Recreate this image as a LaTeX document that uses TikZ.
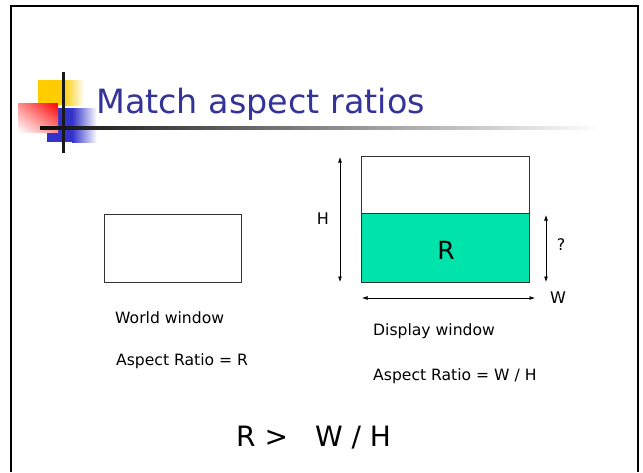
\documentclass[tikz,border=0pt]{standalone}
\usepackage{fontspec}
\setmainfont{DejaVu Sans}
\usetikzlibrary{arrows.meta,shadings}
\definecolor{titleblue}{RGB}{51,51,153}
\definecolor{ratiogreen}{RGB}{0,227,170}
\definecolor{logoyellow}{RGB}{255,204,0}
\definecolor{logoblue}{RGB}{51,51,204}
\tikzset{
	label/.style={inner sep=0pt, anchor=base west, font=\fontsize{15.6}{18}\selectfont},
	dimarrow/.style={{Latex[length=5.5pt,width=4pt]}-{Latex[length=5.5pt,width=4pt]}, line width=0.8pt},
	winbox/.style={draw=black!80, line width=0.9pt}
}

\begin{document}
\begin{tikzpicture}[x=1pt, y=-1pt]
			%%%%% START %%%%%
			
			\useasboundingbox (0, 0) rectangle (643, 472);
			
			\draw[line width=2pt] (11, 472) -- (11, 6) -- (638, 6) -- (638, 472);
			
			% logo
			\fill[logoyellow] (38, 80) rectangle (63, 105);
			\shade[left color=logoyellow, right color=white] (63, 80) rectangle (84, 105);
			\fill[logoblue] (47, 108) rectangle (72, 142);
			\shade[left color=logoblue, right color=white] (72, 108) rectangle (97, 142);
			\shade[upper right=red, upper left=red!45, lower right=red!45, lower left=white] (18, 103) rectangle (58, 132);
			\shade[left color=black!95, right color=white] (40, 126) rectangle (600, 129);
			\fill[black!90] (62, 72) rectangle (65, 153);
			
			\node[inner sep=0pt, anchor=base west, text=titleblue, font=\fontsize{33.4}{40}\selectfont] (title) at (96, 113) {Match aspect ratios};
			
			% world window
			\draw[winbox] (104, 214) rectangle (241, 282);
			\node[label] (worldname) at (115, 323) {World window};
			\node[label] (worldratio) at (116, 365) {Aspect Ratio = R};
			
			% display window
			\coordinate (dtl) at (361, 156);
			\coordinate (dbr) at (529, 282);
			\fill[ratiogreen] (361, 213) rectangle (dbr);
			\draw[winbox] (dtl) rectangle (dbr);
			\draw[winbox] (361, 213) -- (529, 213);
			\node[font=\fontsize{25}{30}\selectfont] (r) at (446, 250) {R};
			
			\coordinate (htop) at (340, 157);
			\coordinate (hbot) at (340, 282);
			\draw[dimarrow] (htop) -- (hbot);
			\node[font=\fontsize{16}{19}\selectfont] (h) at (323, 219) {H};
			
			\coordinate (qtop) at (546, 215);
			\coordinate (qbot) at (546, 282);
			\draw[dimarrow] (qtop) -- (qbot);
			\node[font=\fontsize{16}{19}\selectfont] (q) at (561, 245) {?};
			
			\coordinate (wleft) at (362, 298);
			\coordinate (wright) at (535, 298);
			\draw[dimarrow] (wleft) -- (wright);
			\node[font=\fontsize{16}{19}\selectfont] (w) at (558, 298) {W};
			
			\node[label] (dispname) at (373, 335) {Display window};
			\node[label] (dispratio) at (373, 380) {Aspect Ratio = W / H};
			
			\node[inner sep=0pt, anchor=base west, font=\fontsize{28}{34}\selectfont] (result) at (236, 446) {R >\hspace{27pt}W / H};
			
			%%%%% END %%%%%
		\end{tikzpicture}
\end{document}
